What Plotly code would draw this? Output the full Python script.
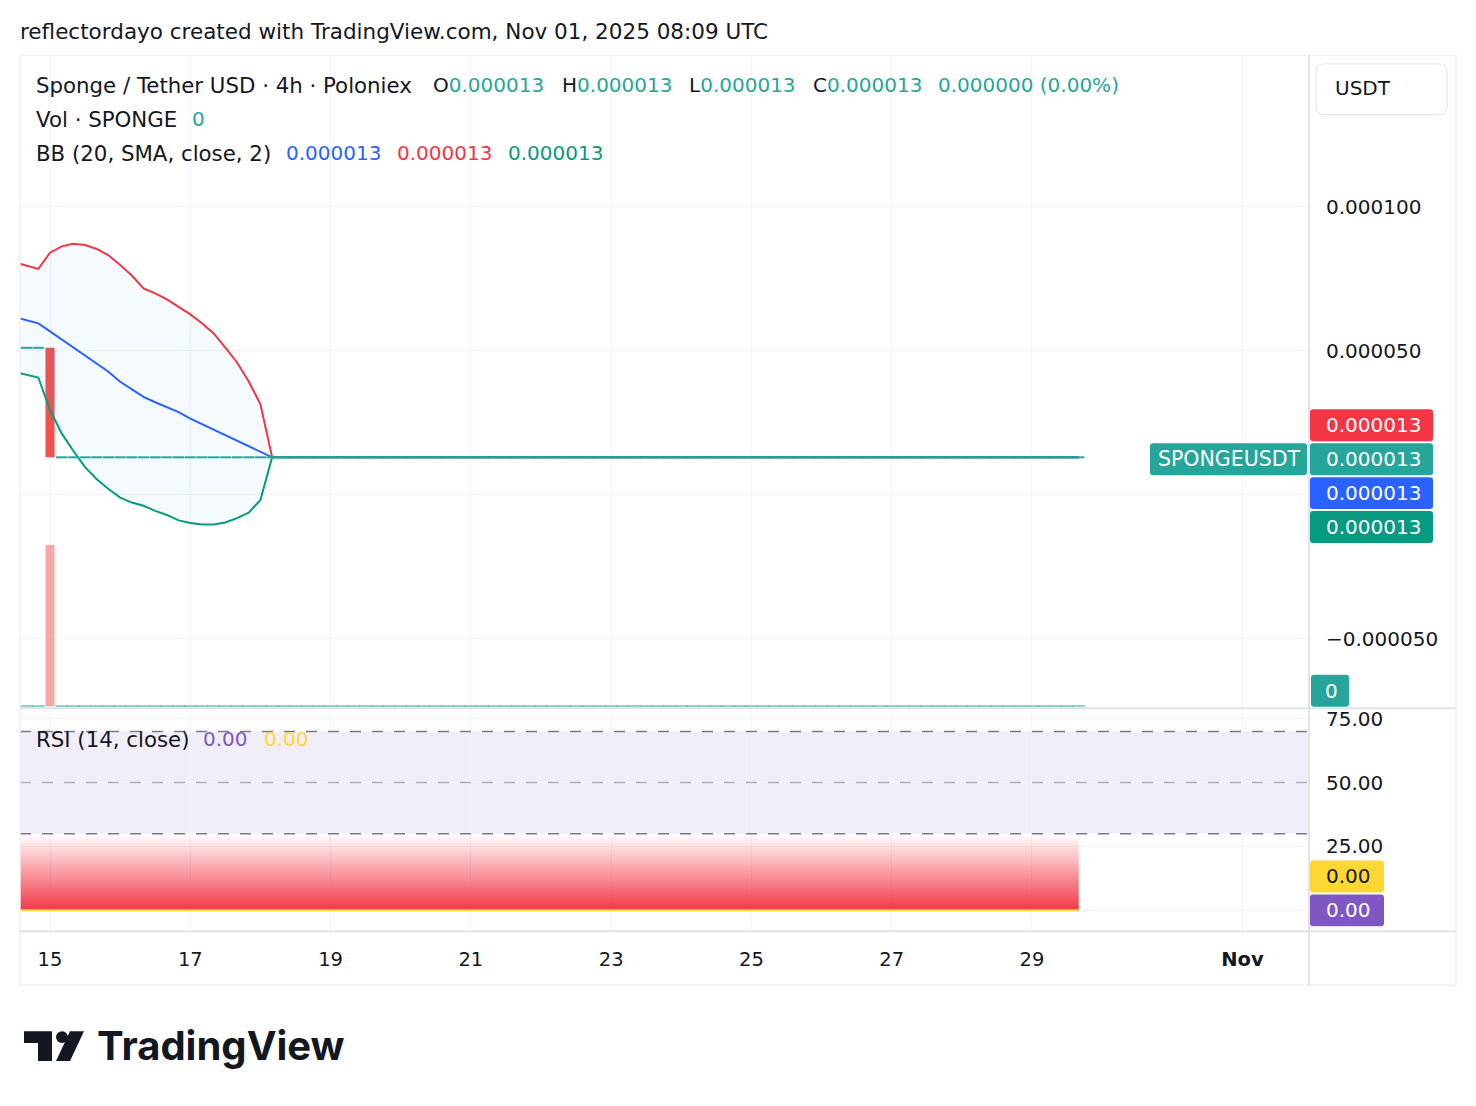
import plotly.graph_objects as go
import pandas as pd

W, H = 1476, 1106


def px(x):
    return x / W


def py(y):
    return 1 - y / H


# ---------------- data ----------------
bar_start = "2025-10-14 12:00"
n_bars = 92
times = pd.date_range(bar_start, periods=n_bars, freq="4h")

# prices in units of 1e-6 USDT
opens_e6 = [51, 51, 51, 51] + [13] * 88
closes_e6 = [51, 51, 51, 13] + [13] * 88
volumes = [0, 0, 0, 1250000] + [0] * 88

bb_upper_e6 = [80.6, 79.5, 78.4, 84.0, 86.2, 87.1, 86.7, 85.3, 83.1, 79.7, 76.1, 71.6,
               69.9, 67.8, 65.3, 62.6, 59.5, 56.0, 51.1, 45.9, 39.3, 31.4, 13.0] + [13.0] * 69
bb_mid_e6 = [61.6, 60.5, 59.5, 56.7, 53.9, 51.1, 48.3, 45.5, 42.7, 39.2, 36.6, 34.0,
             32.1, 30.5, 28.7, 26.4, 24.5, 22.6, 20.7, 18.8, 16.9, 15.0, 13.0] + [13.0] * 69
bb_lower_e6 = [42.6, 41.6, 40.7, 29.4, 21.3, 15.2, 9.6, 5.4, 2.0, -1.0, -2.7, -3.8,
               -5.6, -7.0, -8.9, -9.8, -10.3, -10.3, -9.6, -8.1, -6.2, -1.8, 13.0] + [13.0] * 69

rsi_vals = [0.0] * n_bars
rsi_ma_vals = [0.0] * n_bars
rsi_upper_level = 70
rsi_mid_level = 50
rsi_lower_level = 30

price_ticks_e6 = [-50, 0, 50, 100]
price_tick_text = ["\u22120.000050", "", "0.000050", "0.000100"]
rsi_ticks = [0, 25, 50, 75]
rsi_tick_text = ["", "25.00", "50.00", "75.00"]
date_ticks = ["2025-10-15", "2025-10-17", "2025-10-19", "2025-10-21", "2025-10-23",
              "2025-10-25", "2025-10-27", "2025-10-29", "2025-11-01"]
date_tick_text = ["15", "17", "19", "21", "23", "25", "27", "29", "<b>Nov</b>"]

x_range = ["2025-10-14 13:44", "2025-11-01 22:47"]
price_range_e6 = [-73.9, 152.3]
rsi_range = [-7.81, 78.91]

# ---------------- colours ----------------
TXT = "#131722"
GRID = "#F0F3FA"
SEP = "#E0E3EB"
RED = "#F23645"
TEAL = "#26A69A"
BLUE = "#2962FF"
GREEN = "#089981"
CANDLE_RED = "#EF5350"
PURPLE = "#7E57C2"
YELLOW = "#FDD835"
FONT = "DejaVu Sans"
FS_WORD = 21.3
FS_NUM = 20

E6 = 1e-6
upper = [v * E6 for v in bb_upper_e6]
mid = [v * E6 for v in bb_mid_e6]
lower = [v * E6 for v in bb_lower_e6]
opens = [v * E6 for v in opens_e6]
closes = [v * E6 for v in closes_e6]
bar_ms = 4 * 3600 * 1000 * 0.78

fig = go.Figure()

# Bollinger band fill
fig.add_trace(go.Scatter(x=times, y=upper, mode="lines", line=dict(width=0),
                         hoverinfo="skip", showlegend=False, xaxis="x", yaxis="y"))
fig.add_trace(go.Scatter(x=times, y=lower, mode="lines", line=dict(width=0),
                         fill="tonexty", fillcolor="rgba(33,150,243,0.05)",
                         hoverinfo="skip", showlegend=False, xaxis="x", yaxis="y"))
fig.add_trace(go.Scatter(x=times, y=upper, mode="lines", line=dict(color=RED, width=2),
                         showlegend=False, xaxis="x", yaxis="y"))
fig.add_trace(go.Scatter(x=times, y=mid, mode="lines", line=dict(color=BLUE, width=2),
                         showlegend=False, xaxis="x", yaxis="y"))
fig.add_trace(go.Scatter(x=times, y=lower, mode="lines", line=dict(color=GREEN, width=2),
                         showlegend=False, xaxis="x", yaxis="y"))

# volume (overlay axis)
vol_bar_idx = [i for i, v in enumerate(volumes) if v > 0]
vol_zero_idx = [i for i, v in enumerate(volumes) if v == 0]
fig.add_trace(go.Bar(x=[times[i] for i in vol_bar_idx], y=[volumes[i] for i in vol_bar_idx],
                     width=bar_ms, marker=dict(color="rgba(239,83,80,0.5)", line=dict(width=0)),
                     showlegend=False, xaxis="x", yaxis="y3"))
fig.add_trace(go.Scatter(x=[times[i] for i in vol_zero_idx], y=[volumes[i] for i in vol_zero_idx],
                         mode="markers",
                         marker=dict(symbol="line-ew", size=9,
                                     line=dict(color="rgba(38,166,154,0.5)", width=2.5)),
                         showlegend=False, xaxis="x", yaxis="y3"))

# candles
body_idx = [i for i in range(n_bars) if opens[i] != closes[i]]
doji_idx = [i for i in range(n_bars) if opens[i] == closes[i]]
fig.add_trace(go.Bar(x=[times[i] for i in body_idx],
                     y=[abs(closes[i] - opens[i]) for i in body_idx],
                     base=[min(opens[i], closes[i]) for i in body_idx],
                     width=bar_ms, marker=dict(color=CANDLE_RED, line=dict(width=0)),
                     showlegend=False, xaxis="x", yaxis="y"))
fig.add_trace(go.Scatter(x=[times[i] for i in doji_idx], y=[closes[i] for i in doji_idx],
                         mode="markers",
                         marker=dict(symbol="line-ew", size=8, line=dict(color=TEAL, width=2)),
                         showlegend=False, xaxis="x", yaxis="y"))

# RSI pane
fig.add_trace(go.Scatter(x=times, y=[rsi_lower_level] * n_bars, mode="lines", line=dict(width=0),
                         hoverinfo="skip", showlegend=False, xaxis="x2", yaxis="y2"))
fig.add_trace(go.Scatter(x=times, y=rsi_vals, mode="lines", line=dict(color=PURPLE, width=1.5),
                         fill="tonexty",
                         fillgradient=dict(type="vertical", start=0, stop=rsi_lower_level,
                                           colorscale=[[0, "rgba(242,54,69,1)"],
                                                       [1, "rgba(242,54,69,0)"]]),
                         showlegend=False, xaxis="x2", yaxis="y2"))
fig.add_trace(go.Scatter(x=times, y=rsi_ma_vals, mode="lines", line=dict(color=YELLOW, width=2),
                         showlegend=False, xaxis="x2", yaxis="y2"))

# ---------------- layout ----------------
x_dom = [px(20), px(1309)]
price_dom = [py(707), py(54)]
rsi_dom = [py(930), py(708)]
numfont = dict(family=FONT, size=FS_NUM, color=TXT)

fig.update_layout(
    width=W, height=H,
    margin=dict(l=0, r=0, t=0, b=0),
    paper_bgcolor="white", plot_bgcolor="white",
    barmode="overlay", showlegend=False,
    font=dict(family=FONT, size=FS_NUM, color=TXT),
    xaxis=dict(domain=x_dom, range=x_range, anchor="y", type="date",
               tickvals=date_ticks, showticklabels=False,
               showgrid=True, gridcolor=GRID, gridwidth=1, zeroline=False, showline=False),
    xaxis2=dict(domain=x_dom, range=x_range, anchor="y2", type="date", matches="x",
                tickvals=date_ticks, ticktext=date_tick_text,
                tickfont=dict(family=FONT, size=19.5, color=TXT),
                ticks="", ticklabelstandoff=15,
                showgrid=True, gridcolor=GRID, gridwidth=1, zeroline=False, showline=False),
    yaxis=dict(domain=price_dom, range=[v * E6 for v in price_range_e6], anchor="x",
               side="right", tickvals=[v * E6 for v in price_ticks_e6], ticktext=price_tick_text,
               tickfont=numfont, ticks="", ticklabelstandoff=16,
               showgrid=True, gridcolor=GRID, zeroline=False, showline=False),
    yaxis3=dict(overlaying="y", anchor="x", side="left",
                range=[-0.0093 * max(volumes), 4.034 * max(volumes)],
                showticklabels=False, showgrid=False, zeroline=False, visible=False),
    yaxis2=dict(domain=rsi_dom, range=rsi_range, anchor="x2", side="right",
                tickvals=rsi_ticks, ticktext=rsi_tick_text, tickfont=numfont,
                ticks="", ticklabelstandoff=16,
                showgrid=True, gridcolor=GRID, zeroline=False, showline=False),
)

shapes = []
# RSI band background and levels
shapes.append(dict(type="rect", xref="x2 domain", yref="y2", x0=0, x1=1,
                   y0=rsi_lower_level, y1=rsi_upper_level,
                   fillcolor="rgba(126,87,194,0.1)", line=dict(width=0), layer="below"))
for lvl, col in [(rsi_upper_level, "#787B86"), (rsi_mid_level, "rgba(120,123,134,0.55)"),
                 (rsi_lower_level, "#787B86")]:
    shapes.append(dict(type="line", xref="x2 domain", yref="y2", x0=0, x1=1, y0=lvl, y1=lvl,
                       line=dict(color=col, width=1.5, dash="11px,11px"), layer="above"))


def hline(y, x0, x1, color, w):
    return dict(type="line", xref="paper", yref="paper", x0=px(x0), x1=px(x1),
                y0=py(y), y1=py(y), line=dict(color=color, width=w), layer="above")


def vline(x, y0, y1, color, w):
    return dict(type="line", xref="paper", yref="paper", x0=px(x), x1=px(x),
                y0=py(y0), y1=py(y1), line=dict(color=color, width=w), layer="above")


shapes += [
    hline(53.5, 20, 1456, "#EEF0F3", 1),
    hline(985, 20, 1456, "#EEF0F3", 1.5),
    vline(20, 53, 985, "#EEF0F3", 1.5),
    vline(1456, 53, 985, "#EEF0F3", 1.5),
    vline(1309, 53, 985, SEP, 2),
    hline(707.5, 20, 1456, SEP, 2),
    hline(931, 20, 1456, SEP, 2),
]


def rrect(x0, y0, x1, y1, r):
    pts = [
        ("M", [(x0 + r, y0)]), ("L", [(x1 - r, y0)]), ("Q", [(x1, y0), (x1, y0 + r)]),
        ("L", [(x1, y1 - r)]), ("Q", [(x1, y1), (x1 - r, y1)]), ("L", [(x0 + r, y1)]),
        ("Q", [(x0, y1), (x0, y1 - r)]), ("L", [(x0, y0 + r)]), ("Q", [(x0, y0), (x0 + r, y0)]),
    ]
    s = ""
    for cmd, ps in pts:
        s += cmd + " ".join(f"{px(a):.6f},{py(b):.6f}" for a, b in ps) + " "
    return s + "Z"


annotations = []
DX = -2  # annotation box padding correction
DY = -1.5


def badge(x0, y0, x1, y1, fill, text, tx, tcolor="white", r=3, size=FS_NUM):
    shapes.append(dict(type="path", xref="paper", yref="paper", path=rrect(x0, y0, x1, y1, r),
                       fillcolor=fill, line=dict(width=0), layer="above"))
    annotations.append(dict(xref="paper", yref="paper", x=px(tx + DX), y=py((y0 + y1) / 2),
                            xanchor="left", yanchor="middle", showarrow=False, text=text,
                            font=dict(family=FONT, size=size, color=tcolor)))


badge(1310, 408, 1433, 440, RED, "0.000013", 1326)
badge(1310, 442, 1433, 474, TEAL, "0.000013", 1326)
badge(1310, 476, 1433, 508, BLUE, "0.000013", 1326)
badge(1310, 510, 1433, 542, GREEN, "0.000013", 1326)
badge(1150, 442, 1307, 474, TEAL, "SPONGEUSDT", 1158, size=20.5)
badge(1311, 674, 1349, 706, TEAL, "0", 1325)
badge(1310, 860, 1384, 892, YELLOW, "0.00", 1326, tcolor=TXT)
badge(1310, 894, 1384, 926, PURPLE, "0.00", 1326)

# USDT box
shapes.append(dict(type="path", xref="paper", yref="paper", path=rrect(1316, 62, 1447, 113, 8),
                   fillcolor="white", line=dict(color="#E0E3EB", width=1), layer="above"))
annotations.append(dict(xref="paper", yref="paper", x=px(1335 + DX), y=py(88 + DY),
                        xanchor="left", yanchor="middle", showarrow=False, text="USDT",
                        font=dict(family=FONT, size=FS_NUM, color=TXT)))


def label(x, y, text, color=TXT, size=FS_WORD):
    annotations.append(dict(xref="paper", yref="paper", x=px(x + DX), y=py(y + DY),
                            xanchor="left", yanchor="middle", showarrow=False, text=text,
                            font=dict(family=FONT, size=size, color=color)))


def c(text, color):
    return f"<span style='color:{color}'>{text}</span>"


label(20, 31, "reflectordayo created with TradingView.com, Nov 01, 2025 08:09 UTC", size=21.5)
label(36, 85, "Sponge / Tether USD \u00b7 4h \u00b7 Poloniex")
label(433, 85, "O" + c("0.000013", TEAL), size=FS_NUM)
label(562, 85, "H" + c("0.000013", TEAL), size=FS_NUM)
label(689, 85, "L" + c("0.000013", TEAL), size=FS_NUM)
label(813, 85, "C" + c("0.000013", TEAL), size=FS_NUM)
label(938, 85, "0.000000 (0.00%)", TEAL, size=FS_NUM)
label(36, 119, "Vol \u00b7 SPONGE")
label(192, 119, "0", TEAL, size=FS_NUM)
label(36, 153, "BB (20, SMA, close, 2)")
label(286, 153, "0.000013", BLUE, size=FS_NUM)
label(397, 153, "0.000013", RED, size=FS_NUM)
label(508, 153, "0.000013", GREEN, size=FS_NUM)
label(36, 740, "RSI (14, close)")
label(203, 740, "0.00", PURPLE, size=FS_NUM)
label(264, 740, "0.00", YELLOW, size=FS_NUM)

# TradingView logo
LOGO = "#131722"
t_path = "M{},{} L{},{} L{},{} L{},{} L{},{} L{},{} Z".format(
    px(24), py(1031), px(52), py(1031), px(52), py(1061), px(38), py(1061), px(38), py(1043),
    px(24), py(1043))
shapes.append(dict(type="path", xref="paper", yref="paper", path=t_path, fillcolor=LOGO,
                   line=dict(width=0), layer="above"))
shapes.append(dict(type="circle", xref="paper", yref="paper", x0=px(56), x1=px(68),
                   y0=py(1043), y1=py(1031), fillcolor=LOGO, line=dict(width=0), layer="above"))
s_path = "M{},{} L{},{} L{},{} L{},{} Z".format(
    px(56), py(1061), px(70), py(1061), px(84), py(1031), px(70), py(1031))
shapes.append(dict(type="path", xref="paper", yref="paper", path=s_path, fillcolor=LOGO,
                   line=dict(width=0), layer="above"))
annotations.append(dict(xref="paper", yref="paper", x=px(95), y=py(1045), xanchor="left",
                        yanchor="middle", showarrow=False, text="<b>TradingView</b>",
                        font=dict(family="Inter", size=40, color=LOGO)))

fig.update_layout(shapes=shapes, annotations=annotations)
fig.write_html("out.html")
